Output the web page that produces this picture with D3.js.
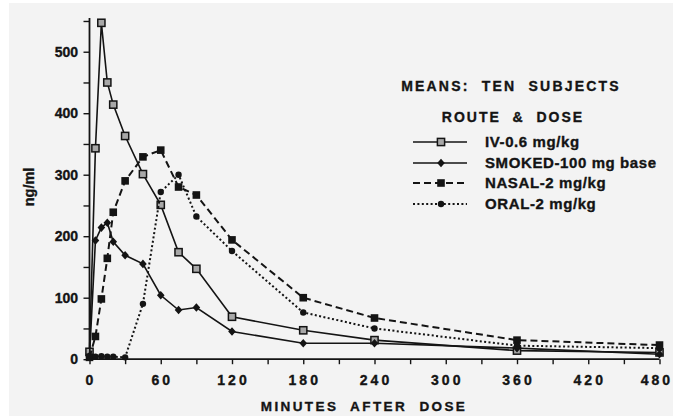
<!DOCTYPE html>
<html><head><meta charset="utf-8">
<script src="https://cdn.jsdelivr.net/npm/d3@7"></script>
<style>
html,body{margin:0;padding:0;background:#fff;}
svg{display:block;font-family:"Liberation Sans",Arial,Helvetica,sans-serif;font-weight:bold;}
svg text{white-space:pre;}
</style></head>
<body>
<svg id="chart" width="673" height="418"></svg>
<script>
// ---- data ----
const minutes = [0, 5, 10, 15, 20, 30, 45, 60, 75, 90, 120, 180, 240, 360, 480];
const ivValues     = [12, 343, 547, 450, 414, 363, 301, 251, 174, 147, 69, 47, 31, 14, 11];
const smokedValues = [5, 193, 214, 222, 191, 169, 155, 104, 80, 84, 45, 26, 26, 18, 8];
const nasalValues  = [3, 37, 98, 164, 239, 290, 329, 340, 280, 267, 194, 100, 67, 31, 23];
const oralValues   = [5, 4, 5, 4, 4, 3, 90, 272, 300, 232, 176, 76, 50, 22, 18];
const seriesNames  = ["IV-0.6 mg/kg", "SMOKED-100 mg base", "NASAL-2 mg/kg", "ORAL-2 mg/kg"];
const xTickValues  = [0, 60, 120, 180, 240, 300, 360, 420, 480];
const yTickValues  = [0, 100, 200, 300, 400, 500];
const titleText    = "MEANS:  TEN  SUBJECTS";
const subtitleText = "ROUTE  &  DOSE";
const xLabel       = "MINUTES  AFTER  DOSE";
const yLabel       = "ng/ml";

// ---- styles ----
const styles = [
  {dash: null,      width: 1.6, marker: "openSquare"},
  {dash: null,      width: 1.6, marker: "diamond"},
  {dash: "7,4",     width: 2.0, marker: "square"},
  {dash: "2,2.4",   width: 2.0, marker: "dot"}
];
const ink = "#141414";

const svg = d3.select("#chart");
svg.append("rect").attr("x", 9).attr("y", 3).attr("width", 664).attr("height", 413).attr("fill", "#f3f3f3");

const x = d3.scaleLinear().domain([0, 480]).range([89.5, 659.5]);
const y = d3.scaleLinear().domain([0, 555]).range([359.2, 17.9]);

// axes
const gx = svg.append("g").attr("transform", `translate(0,${y(0)})`);
gx.call(d3.axisBottom(x).tickValues(d3.range(0, 481, 30)).tickSize(5).tickFormat(""));
const gy = svg.append("g").attr("transform", `translate(${x(0)},0)`);
gy.call(d3.axisLeft(y).tickValues(d3.range(0, 551, 50)).tickSize(6).tickFormat(""));
[gx, gy].forEach(g => {
  g.select(".domain").attr("stroke", ink).attr("stroke-width", 1.8);
  g.selectAll(".tick line").attr("stroke", ink).attr("stroke-width", 1.4);
});
gy.select(".domain").attr("d", `M0,${y(0)}V${y(555)}`);
gx.select(".domain").attr("d", `M${x(0)},0H${x(480)}`);

function heavy(sel) { return sel.attr("fill", ink).attr("stroke", ink).attr("stroke-width", 0.35); }

// tick labels
const lastTick = xTickValues[xTickValues.length - 1];
heavy(svg.append("g").selectAll("text").data(xTickValues).join("text")
  .attr("x", d => d === lastTick ? 673 : x(d) + 1.5).attr("y", 385)
  .attr("text-anchor", d => d === lastTick ? "end" : "middle")
  .attr("font-size", 14).attr("letter-spacing", 3)
  .text(d => d));
heavy(svg.append("g").selectAll("text").data(yTickValues).join("text")
  .attr("x", 78).attr("y", d => y(d) + 5)
  .attr("text-anchor", "end").attr("font-size", 14)
  .text(d => d));

// axis titles
heavy(svg.append("text").attr("x", 364).attr("y", 411).attr("text-anchor", "middle")
  .attr("font-size", 13.5).attr("letter-spacing", 2.4).text(xLabel));
heavy(svg.append("text").attr("transform", "translate(34,187) rotate(-90)").attr("text-anchor", "middle")
  .attr("font-size", 14.5).text(yLabel));

// markers
function drawMarker(g, type, cx, cy) {
  if (type === "openSquare") {
    g.append("rect").attr("x", cx - 3.6).attr("y", cy - 3.6).attr("width", 7.2).attr("height", 7.2)
      .attr("fill", "#a8a8a8").attr("stroke", ink).attr("stroke-width", 1.5);
  } else if (type === "square") {
    g.append("rect").attr("x", cx - 3.8).attr("y", cy - 3.8).attr("width", 7.6).attr("height", 7.6).attr("fill", ink);
  } else if (type === "diamond") {
    g.append("path").attr("d", `M${cx},${cy-4.3}L${cx+3.8},${cy}L${cx},${cy+4.3}L${cx-3.8},${cy}Z`).attr("fill", ink);
  } else {
    g.append("circle").attr("cx", cx).attr("cy", cy).attr("r", 3.2).attr("fill", ink);
  }
}

const allValues = [ivValues, smokedValues, nasalValues, oralValues];
const line = d3.line().x(d => x(d[0])).y(d => y(d[1]));
allValues.forEach((vals, i) => {
  const pts = minutes.map((m, j) => [m, vals[j]]);
  const st = styles[i];
  const g = svg.append("g");
  g.append("path").attr("d", line(pts)).attr("fill", "none").attr("stroke", ink)
    .attr("stroke-width", st.width).attr("stroke-dasharray", st.dash);
  pts.forEach(p => drawMarker(g, st.marker, x(p[0]), y(p[1])));
});

// legend
heavy(svg.append("text").attr("x", 511).attr("y", 91).attr("text-anchor", "middle")
  .attr("font-size", 14).attr("letter-spacing", 2.2).text(titleText));
heavy(svg.append("text").attr("x", 513).attr("y", 122).attr("text-anchor", "middle")
  .attr("font-size", 14).attr("letter-spacing", 2).text(subtitleText));
const legendRows = [142, 163, 183, 204];
seriesNames.forEach((name, i) => {
  const g = svg.append("g");
  const yy = legendRows[i];
  const st = styles[i];
  g.append("line").attr("x1", 413).attr("x2", 467).attr("y1", yy).attr("y2", yy)
    .attr("stroke", ink).attr("stroke-width", st.width).attr("stroke-dasharray", st.dash);
  drawMarker(g, st.marker, 441, yy);
  heavy(g.append("text").attr("x", 485).attr("y", yy + 5).attr("font-size", 15)
    .attr("letter-spacing", 0.6).text(name));
});
</script>
</body></html>
